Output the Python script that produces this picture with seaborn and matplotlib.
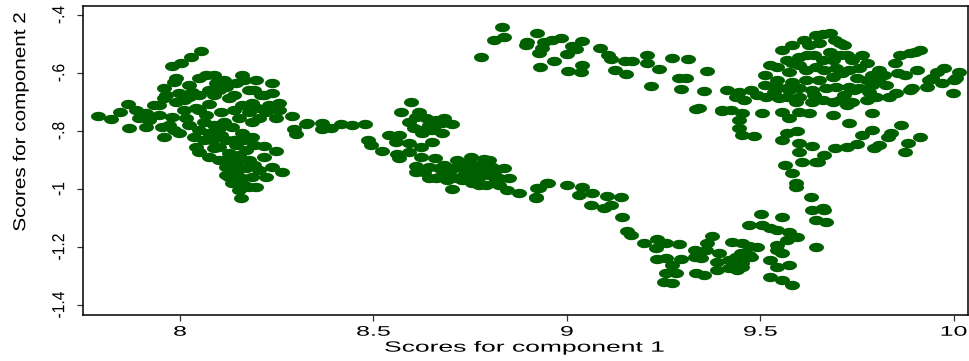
import numpy as np
import pandas as pd
import matplotlib
matplotlib.use("Agg")
import matplotlib.pyplot as plt
import seaborn as sns
from matplotlib.path import Path
from matplotlib.markers import MarkerStyle
from matplotlib.transforms import Affine2D
from matplotlib.patheffects import AbstractPathEffect

# Component scores (component 1, component 2), grouped by region of the trajectory
west = [(7.788, -0.748), (7.822, -0.759), (7.868, -0.790), (7.866, -0.707), (8.054, -0.524),
        (8.028, -0.545), (8.003, -0.566), (7.979, -0.576), (7.990, -0.617), (7.984, -0.631),
        (8.067, -0.607), (8.049, -0.617), (8.160, -0.607), (8.197, -0.624), (8.238, -0.634),
        (8.238, -0.669), (8.145, -0.634), (8.093, -0.634), (8.119, -0.648), (8.075, -0.659),
        (8.031, -0.666), (7.997, -0.669), (7.964, -0.676), (7.959, -0.686), (7.990, -0.700),
        (8.023, -0.683), (8.127, -0.686), (8.075, -0.707), (8.160, -0.710), (8.186, -0.703),
        (8.256, -0.703), (8.256, -0.728), (8.290, -0.748), (8.326, -0.776), (8.295, -0.793),
        (8.300, -0.810), (8.222, -0.734), (8.204, -0.755), (8.248, -0.755), (8.186, -0.769),
        (7.886, -0.728), (7.912, -0.738), (7.946, -0.745), (7.979, -0.752), (8.016, -0.755),
        (8.041, -0.721), (8.067, -0.745), (7.912, -0.786), (7.953, -0.786), (7.959, -0.821),
        (7.997, -0.807), (8.036, -0.821), (8.049, -0.797), (8.075, -0.807), (8.083, -0.831),
        (8.135, -0.786), (8.160, -0.807), (8.186, -0.821), (8.041, -0.855), (8.049, -0.872),
        (8.075, -0.890), (8.101, -0.855), (8.127, -0.876), (8.145, -0.848), (8.171, -0.866),
        (8.217, -0.852), (8.248, -0.869), (8.217, -0.890), (8.119, -0.924), (8.119, -0.952),
        (8.145, -0.910), (8.171, -0.928), (8.186, -0.959), (8.135, -0.979), (8.178, -0.993),
        (8.197, -0.993), (8.158, -1.031), (8.238, -0.924), (8.264, -0.941), (8.204, -0.934),
        (8.222, -0.959), (8.145, -0.945), (8.160, -0.962), (8.127, -0.890), (8.101, -0.900),
        (7.933, -0.710), (8.010, -0.728), (8.106, -0.734), (8.114, -0.769), (8.153, -0.755),
        (8.088, -0.779), (8.062, -0.769), (8.106, -0.814), (8.140, -0.831), (7.972, -0.779),
        (7.845, -0.734), (8.178, -0.900), (8.153, -1.003), (8.210, -0.676), (8.178, -0.659),
        (8.049, -0.676), (8.088, -0.607),
        (8.010, -0.693), (8.049, -0.728), (8.088, -0.676), (8.140, -0.728), (8.178, -0.734),
        (8.023, -0.779), (8.101, -0.790), (8.062, -0.831), (8.088, -0.859), (8.119, -0.831),
        (8.166, -0.831), (8.191, -0.848), (8.153, -0.883), (8.114, -0.900), (8.191, -0.917),
        (8.153, -0.928), (8.127, -0.959), (8.166, -0.986), (8.101, -0.659), (8.140, -0.676),
        (8.191, -0.659), (8.217, -0.676), (8.230, -0.710), (8.199, -0.721), (7.946, -0.710),
        (7.920, -0.762), (7.894, -0.755), (7.984, -0.797), (7.959, -0.652), (8.166, -0.624),
        (8.114, -0.624), (8.023, -0.641)]

middle = [(8.329, -0.772), (8.367, -0.772), (8.367, -0.793), (8.391, -0.790), (8.416, -0.776),
          (8.445, -0.779), (8.479, -0.776), (8.598, -0.700), (8.572, -0.734), (8.592, -0.769),
          (8.611, -0.752), (8.636, -0.755), (8.662, -0.762), (8.678, -0.772), (8.704, -0.776),
          (8.626, -0.797), (8.626, -0.807), (8.652, -0.797), (8.678, -0.807), (8.541, -0.814),
          (8.566, -0.814), (8.559, -0.838), (8.592, -0.841), (8.623, -0.855), (8.652, -0.838),
          (8.486, -0.831), (8.494, -0.848), (8.523, -0.869), (8.561, -0.879), (8.566, -0.893),
          (8.592, -0.872), (8.623, -0.890), (8.660, -0.893), (8.753, -0.890), (8.786, -0.897),
          (8.611, -0.921), (8.611, -0.941), (8.644, -0.924), (8.670, -0.928), (8.670, -0.959),
          (8.696, -0.941), (8.722, -0.924), (8.740, -0.945), (8.755, -0.924), (8.773, -0.959),
          (8.792, -0.934), (8.807, -0.924), (8.838, -0.928), (8.825, -0.962), (8.755, -0.979),
          (8.792, -0.986), (8.704, -1.000), (8.817, -0.969), (8.846, -1.003), (8.877, -1.014),
          (8.921, -1.028), (8.923, -0.997), (8.949, -0.979), (8.729, -0.969), (8.691, -0.969),
          (8.662, -0.962), (8.735, -0.952), (8.768, -0.941), (8.799, -0.952), (8.709, -0.928),
          (8.748, -0.907), (8.781, -0.917), (8.644, -0.779), (8.605, -0.790),
          (8.683, -0.917), (8.717, -0.900), (8.760, -0.917), (8.799, -0.900), (8.812, -0.941),
          (8.748, -0.969), (8.773, -0.986), (8.717, -0.962), (8.851, -0.962), (8.825, -0.986),
          (8.631, -0.941), (8.644, -0.962), (8.618, -0.734), (8.683, -0.755), (8.657, -0.783)]

arch = [(8.833, -0.441), (8.812, -0.486), (8.838, -0.476), (8.779, -0.545), (8.923, -0.462),
        (8.898, -0.493), (8.895, -0.503), (8.942, -0.493), (8.936, -0.514), (8.929, -0.531),
        (8.986, -0.479), (8.962, -0.486), (9.040, -0.490), (9.014, -0.507), (9.024, -0.517),
        (9.001, -0.534), (8.931, -0.579), (8.967, -0.559), (9.040, -0.572), (9.037, -0.597),
        (9.004, -0.593), (9.086, -0.514), (9.107, -0.538), (9.115, -0.552), (9.151, -0.559),
        (9.169, -0.559), (9.208, -0.538), (9.208, -0.566), (9.125, -0.590), (9.154, -0.603),
        (9.239, -0.586), (9.273, -0.548), (9.314, -0.552), (9.291, -0.617), (9.309, -0.617),
        (9.363, -0.593), (9.218, -0.645), (9.296, -0.655), (9.355, -0.662), (9.335, -0.724),
        (9.415, -0.659), (9.446, -0.666), (9.402, -0.731), (9.425, -0.728), (9.454, -0.738)]

valley = [(8.921, -1.031), (8.929, -0.997), (8.952, -0.979), (9.001, -0.986), (9.040, -0.993),
          (9.032, -1.021), (9.066, -1.014), (9.105, -1.024), (9.141, -1.028), (9.063, -1.055),
          (9.097, -1.066), (9.115, -1.055), (9.143, -1.097), (9.156, -1.145), (9.167, -1.159),
          (9.200, -1.186), (9.234, -1.172), (9.231, -1.203), (9.257, -1.186), (9.291, -1.190),
          (9.234, -1.241), (9.257, -1.238), (9.296, -1.241), (9.273, -1.262), (9.257, -1.290),
          (9.283, -1.290), (9.252, -1.321), (9.273, -1.324), (9.330, -1.210), (9.330, -1.234),
          (9.348, -1.238), (9.335, -1.290), (9.355, -1.297), (9.374, -1.162), (9.363, -1.186),
          (9.361, -1.210), (9.394, -1.221), (9.389, -1.252), (9.389, -1.279), (9.420, -1.272),
          (9.420, -1.245), (9.428, -1.183), (9.454, -1.186), (9.472, -1.197), (9.492, -1.200),
          (9.451, -1.221), (9.438, -1.234), (9.472, -1.228), (9.438, -1.262), (9.454, -1.255),
          (9.454, -1.269), (9.441, -1.279), (9.477, -1.234), (9.503, -1.086), (9.472, -1.124),
          (9.505, -1.124), (9.524, -1.134), (9.557, -1.097), (9.542, -1.141), (9.575, -1.148),
          (9.570, -1.176), (9.596, -1.166), (9.544, -1.193), (9.544, -1.210), (9.557, -1.221),
          (9.524, -1.245), (9.542, -1.269), (9.575, -1.262), (9.524, -1.303), (9.557, -1.314),
          (9.581, -1.331), (9.645, -1.200), (9.632, -1.028), (9.635, -1.072), (9.661, -1.066),
          (9.645, -1.107), (9.671, -1.114), (9.565, -0.917), (9.583, -0.945), (9.593, -0.979),
          (9.593, -0.993), (9.609, -0.907), (9.645, -0.907), (9.666, -1.072)]

east = [(9.342, -0.721), (9.438, -0.683), (9.459, -0.693), (9.477, -0.659), (9.492, -0.676),
        (9.516, -0.683), (9.402, -0.728), (9.446, -0.762), (9.446, -0.790), (9.454, -0.814),
        (9.485, -0.817), (9.505, -0.738), (9.555, -0.734), (9.575, -0.755), (9.601, -0.734),
        (9.627, -0.738), (9.570, -0.807), (9.596, -0.800), (9.557, -0.831), (9.601, -0.841),
        (9.601, -0.872), (9.635, -0.852), (9.666, -0.883), (9.648, -0.907), (9.687, -0.745),
        (9.730, -0.772), (9.692, -0.859), (9.723, -0.855), (9.749, -0.845), (9.764, -0.814),
        (9.790, -0.797), (9.790, -0.738), (9.808, -0.848), (9.795, -0.859), (9.829, -0.821),
        (9.865, -0.779), (9.839, -0.807), (9.873, -0.872), (9.881, -0.841), (9.912, -0.821),
        (9.997, -0.669), (9.886, -0.659), (9.852, -0.669), (9.930, -0.648), (9.971, -0.634),
        (10.007, -0.617), (9.945, -0.617), (9.956, -0.597), (9.904, -0.590), (9.855, -0.600),
        (9.847, -0.566), (9.860, -0.538), (9.886, -0.531), (9.912, -0.521), (9.899, -0.528),
        (9.976, -0.583), (10.015, -0.597), (10.002, -0.624), (9.937, -0.624), (9.891, -0.652),
        (9.873, -0.607)]

core = [(9.661, -0.466), (9.679, -0.462), (9.645, -0.469), (9.705, -0.497), (9.627, -0.503),
        (9.653, -0.497), (9.679, -0.528), (9.622, -0.538), (9.601, -0.545), (9.568, -0.555),
        (9.583, -0.566), (9.542, -0.579), (9.575, -0.597), (9.619, -0.590), (9.645, -0.579),
        (9.661, -0.555), (9.687, -0.555), (9.697, -0.583), (9.723, -0.538), (9.738, -0.555),
        (9.764, -0.538), (9.775, -0.566), (9.730, -0.590), (9.712, -0.600), (9.749, -0.617),
        (9.775, -0.624), (9.790, -0.641), (9.808, -0.631), (9.826, -0.641), (9.687, -0.614),
        (9.653, -0.624), (9.619, -0.624), (9.583, -0.631), (9.542, -0.624), (9.542, -0.648),
        (9.568, -0.652), (9.601, -0.652), (9.635, -0.659), (9.671, -0.652), (9.697, -0.648),
        (9.730, -0.648), (9.756, -0.652), (9.782, -0.666), (9.800, -0.683), (9.775, -0.693),
        (9.738, -0.700), (9.705, -0.693), (9.661, -0.693), (9.635, -0.700), (9.601, -0.683),
        (9.568, -0.683), (9.549, -0.686), (9.536, -0.666), (9.593, -0.700), (9.723, -0.710),
        (9.687, -0.700),
        (9.614, -0.486), (9.692, -0.486), (9.717, -0.503), (9.640, -0.538), (9.705, -0.538),
        (9.601, -0.572), (9.666, -0.590), (9.756, -0.583), (9.808, -0.590), (9.790, -0.607),
        (9.743, -0.659), (9.717, -0.676), (9.640, -0.676), (9.575, -0.659), (9.511, -0.641),
        (9.511, -0.607), (9.524, -0.572), (9.557, -0.521), (9.583, -0.503), (9.834, -0.683),
        (9.821, -0.607)]

x_ticks = [8, 8.5, 9, 9.5, 10]
x_tick_labels = ["8", "8.5", "9", "9.5", "10"]
y_ticks = [-0.4, -0.6, -0.8, -1.0, -1.2, -1.4]
y_tick_labels = ["-.4", "-.6", "-.8", "-1", "-1.2", "-1.4"]
x_title = "Scores for component 1"
y_title = "Scores for component 2"

scores = pd.DataFrame(
    [pt for part in (west, middle, arch, valley, east, core) for pt in part],
    columns=["score1", "score2"],
)


class GlyphStretch(AbstractPathEffect):
    """Stretch text outlines about their centre, in the text's own frame."""

    def __init__(self, sx=1.0, sy=1.0):
        super().__init__()
        self.sx, self.sy = sx, sy

    def draw_path(self, renderer, gc, tpath, affine, rgbFace=None):
        ext = tpath.get_extents()
        cx, cy = (ext.x0 + ext.x1) / 2, (ext.y0 + ext.y1) / 2
        stretch = Affine2D().translate(-cx, -cy).scale(self.sx, self.sy).translate(cx, cy)
        renderer.draw_path(gc, tpath, stretch + affine, rgbFace)


sns.set_theme(style="white")
plt.rcParams["font.family"] = ["Liberation Sans", "DejaVu Sans"]

W, H = 970, 361
fig = plt.figure(figsize=(W / 100, H / 100), dpi=100)
ax = fig.add_axes([83 / W, 1 - 315 / H, 885 / W, 309 / H])

# oval marker, wider than tall
t = np.linspace(0, 2 * np.pi, 61)
oval = MarkerStyle(Path(np.column_stack([0.75 * np.cos(t), 0.47 * np.sin(t)]), closed=True))

sns.scatterplot(data=scores, x="score1", y="score2", marker=oval, s=116,
                color="#006000", linewidth=0, ax=ax, legend=False)

ax.set_xlim(7.7492, 10.037)
ax.set_ylim(-1.4345, -0.369)
ax.set_xticks(x_ticks, x_tick_labels)
ax.set_yticks(y_ticks, y_tick_labels)

for side in ["left", "bottom", "top", "right"]:
    ax.spines[side].set_color("black")
    ax.spines[side].set_linewidth(1.1)

ax.tick_params(axis="both", which="major", bottom=True, left=True, direction="out",
               length=4.4, width=0.9, color="#333333", labelcolor="black")
ax.tick_params(axis="x", labelsize=10, pad=2.6)
ax.tick_params(axis="y", labelsize=12.5, pad=7.0)

for lab in ax.get_xticklabels():
    lab.set_path_effects([GlyphStretch(sx=1.8)])
for lab in ax.get_yticklabels():
    lab.set_rotation(90)
    lab.set_ha("right")
    lab.set_va("center")
    lab.set_path_effects([GlyphStretch(sx=0.9)])

ax.set_xlabel(x_title, fontsize=10.7, color="black",
              path_effects=[GlyphStretch(sx=1.78)])
ax.xaxis.set_label_coords(0.499, -0.083)
ax.set_ylabel(y_title, fontsize=12.4, color="black",
              path_effects=[GlyphStretch(sx=1.2)])
ax.yaxis.set_label_coords(-0.062, 0.626)

fig.savefig("out.png", dpi=100, facecolor="white")
